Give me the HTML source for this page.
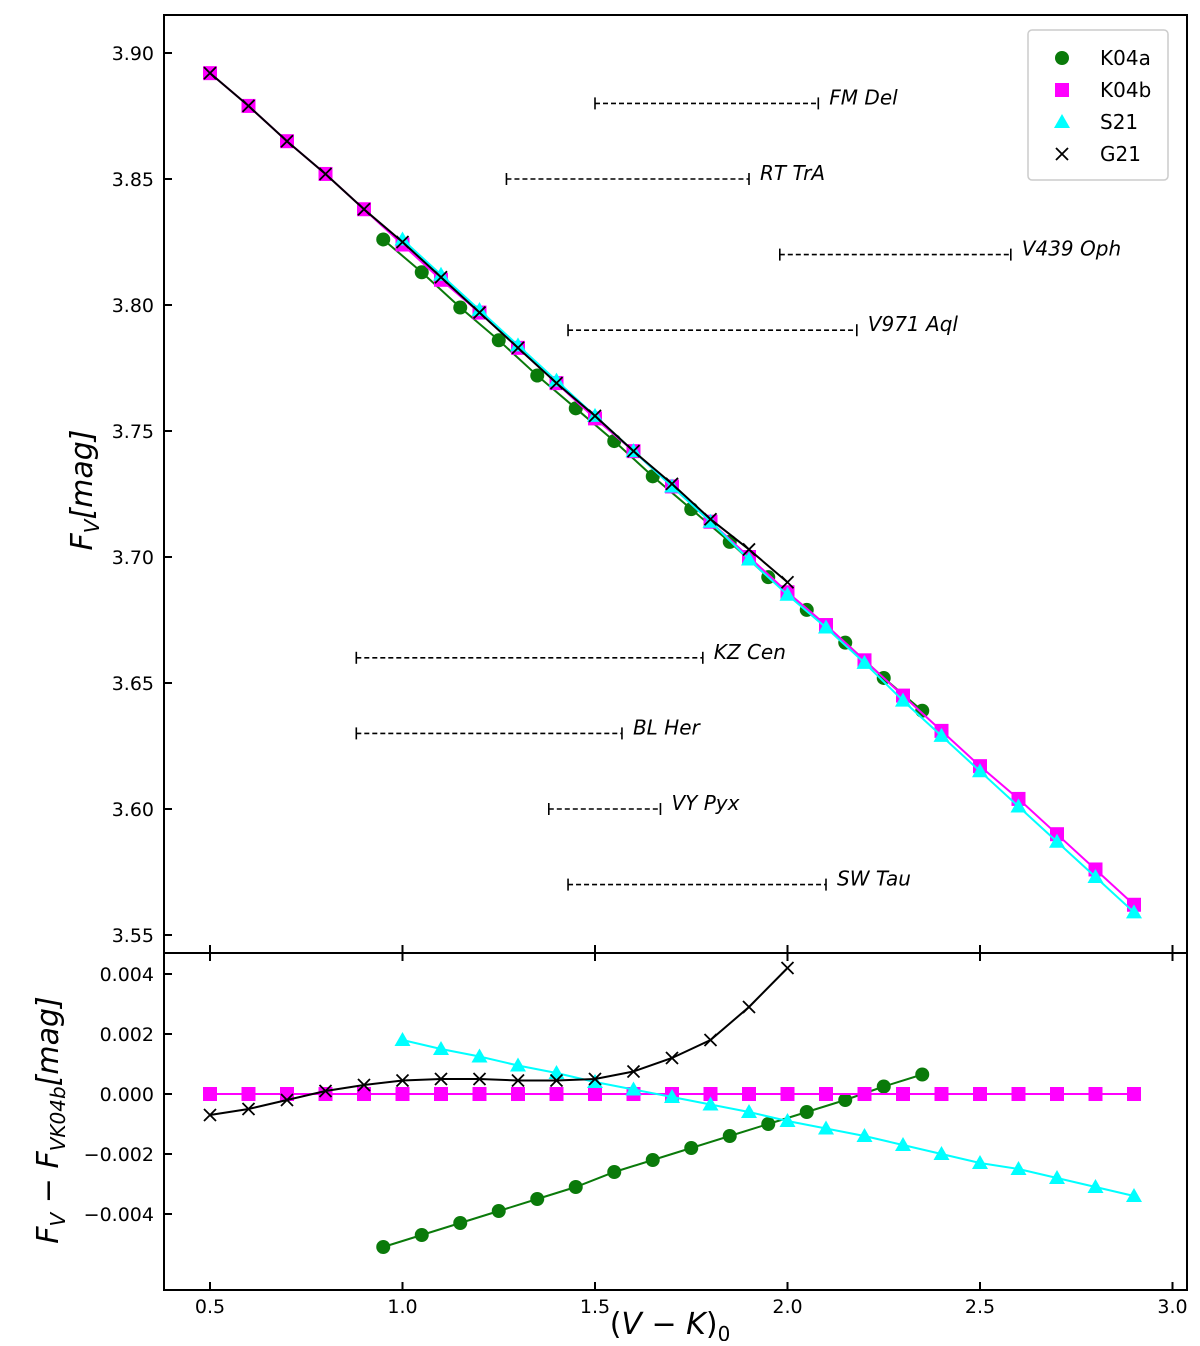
<!DOCTYPE html>
<html><head><meta charset="utf-8"><style>
body{margin:0;background:#fff;}
svg text{font-family:"DejaVu Sans","Liberation Sans",sans-serif;}
</style></head><body>
<svg id="c" width="1200" height="1341" xmlns="http://www.w3.org/2000/svg"></svg>
<script>
const k04bX=[0.5,0.6,0.7,0.8,0.9,1.0,1.1,1.2,1.3,1.4,1.5,1.6,1.7,1.8,1.9,2.0,2.1,2.2,2.3,2.4,2.5,2.6,2.7,2.8,2.9];
const k04bY=[3.892,3.879,3.865,3.852,3.838,3.824,3.810,3.797,3.783,3.769,3.755,3.742,3.728,3.714,3.700,3.686,3.673,3.659,3.645,3.631,3.617,3.604,3.590,3.576,3.562];
const k04bD=[0,0,0,0,0,0,0,0,0,0,0,0,0,0,0,0,0,0,0,0,0,0,0,0,0];
const k04aX=[0.95,1.05,1.15,1.25,1.35,1.45,1.55,1.65,1.75,1.85,1.95,2.05,2.15,2.25,2.35];
const k04aY=[3.826,3.813,3.799,3.786,3.772,3.759,3.746,3.732,3.719,3.706,3.692,3.679,3.666,3.652,3.639];
const k04aD=[-0.0051,-0.0047,-0.0043,-0.0039,-0.0035,-0.0031,-0.0026,-0.0022,-0.0018,-0.0014,-0.0010,-0.0006,-0.0002,0.00025,0.00065];
const s21X=[1.0,1.1,1.2,1.3,1.4,1.5,1.6,1.7,1.8,1.9,2.0,2.1,2.2,2.3,2.4,2.5,2.6,2.7,2.8,2.9];
const s21Y=[3.826,3.812,3.798,3.784,3.770,3.756,3.742,3.728,3.714,3.699,3.685,3.672,3.658,3.643,3.629,3.615,3.601,3.587,3.573,3.559];
const s21D=[0.0018,0.0015,0.00125,0.00095,0.0007,0.0004,0.00015,-0.0001,-0.00035,-0.0006,-0.0009,-0.00115,-0.0014,-0.0017,-0.002,-0.0023,-0.0025,-0.0028,-0.0031,-0.0034];
const g21X=[0.5,0.6,0.7,0.8,0.9,1.0,1.1,1.2,1.3,1.4,1.5,1.6,1.7,1.8,1.9,2.0];
const g21Y=[3.892,3.879,3.865,3.852,3.838,3.825,3.811,3.797,3.783,3.769,3.756,3.742,3.729,3.715,3.703,3.690];
const g21D=[-0.0007,-0.0005,-0.0002,0.0001,0.0003,0.00045,0.0005,0.0005,0.00045,0.00045,0.0005,0.00075,0.0012,0.0018,0.0029,0.0042];
const starNames=["FM Del","RT TrA","V439 Oph","V971 Aql","KZ Cen","BL Her","VY Pyx","SW Tau"];
const starY=[3.88,3.85,3.82,3.79,3.66,3.63,3.60,3.57];
const starX0=[1.50,1.27,1.98,1.43,0.88,0.88,1.38,1.43];
const starX1=[2.08,1.90,2.58,2.18,1.78,1.57,1.67,2.10];
const xTicks=[0.5,1.0,1.5,2.0,2.5,3.0];
const yTopTicks=[3.55,3.60,3.65,3.70,3.75,3.80,3.85,3.90];
const yBotTicks=[-0.004,-0.002,0.000,0.002,0.004];

const L=164,R=1187,T=15,M=953,B=1290;
const X=v=>210+(v-0.5)*385;
const YT=v=>53+(3.90-v)*2520;
const YB=v=>1094-v*30000;
const svg=document.getElementById('c');
const NS='http://www.w3.org/2000/svg';
function mk(tag,a,parent){const e=document.createElementNS(NS,tag);for(const k in a)e.setAttribute(k,a[k]);(parent||svg).appendChild(e);return e;}

let f=mk('rect',{x:L,y:T,width:R-L,height:M-T,fill:'none',stroke:'#000','stroke-width':2});


f=mk('rect',{x:L,y:M,width:R-L,height:B-M,fill:'none',stroke:'#000','stroke-width':2});



xTicks.forEach(v=>{
  const x=X(v);
  mk('line',{x1:x,x2:x,y1:M-8,y2:M+8,stroke:'#000','stroke-width':2});
  mk('line',{x1:x,x2:x,y1:B-8,y2:B,stroke:'#000','stroke-width':2});
  const t=mk('text',{x:x,y:B+23,'font-size':19,'text-anchor':'middle'});t.textContent=v.toFixed(1);
  
  
});
yTopTicks.forEach(v=>{
  const y=YT(v);
  mk('line',{x1:L,x2:L+8,y1:y,y2:y,stroke:'#000','stroke-width':2});
  const t=mk('text',{x:L-10,y:y+7,'font-size':19,'text-anchor':'end'});t.textContent=v.toFixed(2);
  
  
});
yBotTicks.forEach(v=>{
  const y=YB(v);
  mk('line',{x1:L,x2:L+8,y1:y,y2:y,stroke:'#000','stroke-width':2});
  const t=mk('text',{x:L-10,y:y+7,'font-size':19,'text-anchor':'end'});t.textContent=(v<0?'\u2212':'')+Math.abs(v).toFixed(3);
  
  
});

let t=mk('text',{x:670,y:1334,'font-size':30,'text-anchor':'middle'});
t.innerHTML='(<tspan font-style="italic">V</tspan> \u2212 <tspan font-style="italic">K</tspan>)<tspan font-size="20" dy="7">0</tspan>';


t=mk('text',{x:0,y:0,'font-size':30,'text-anchor':'middle',transform:'translate(92,490) rotate(-90)'});
t.innerHTML='<tspan font-style="italic">F</tspan><tspan font-size="20" dy="7" font-style="italic">V</tspan><tspan dy="-7" font-style="italic">[mag]</tspan>';


t=mk('text',{x:0,y:0,'font-size':30,'text-anchor':'middle',transform:'translate(58,1120) rotate(-90)'});
t.innerHTML='<tspan font-style="italic">F</tspan><tspan font-size="20" dy="7" font-style="italic">V</tspan><tspan dy="-7"> \u2212 </tspan><tspan font-style="italic">F</tspan><tspan font-size="20" dy="7" font-style="italic">VK04b</tspan><tspan dy="-7" font-style="italic">[mag]</tspan>';



starNames.forEach((n,i)=>{
  const y=YT(starY[i]),x0=X(starX0[i]),x1=X(starX1[i]);
  const g=mk('g',{});
  
  
  mk('line',{x1:x0,x2:x1,y1:y,y2:y,stroke:'#000','stroke-width':1.6,'stroke-dasharray':'5,3'},g);
  mk('line',{x1:x0,x2:x0,y1:y-6,y2:y+6,stroke:'#000','stroke-width':1.6},g);
  mk('line',{x1:x1,x2:x1,y1:y-6,y2:y+6,stroke:'#000','stroke-width':1.6},g);
  const tt=mk('text',{x:x1+11,y:y+1,'font-size':20,'font-style':'italic'},g);tt.textContent=n;
});

function marker(type,x,y,g,color){
  if(type==='circle')mk('circle',{cx:x,cy:y,r:7,fill:color},g);
  else if(type==='square')mk('rect',{x:x-7,y:y-7,width:14,height:14,fill:color},g);
  else if(type==='tri')mk('polygon',{points:`${x},${y-8} ${x-8},${y+6} ${x+8},${y+6}`,fill:color},g);
  else{mk('path',{d:`M${x-6},${y-6}L${x+6},${y+6}M${x-6},${y+6}L${x+6},${y-6}`,stroke:color,'stroke-width':1.8},g);}
}
function series(name,xs,ys,ds,type,color){
  [[ys,YT,'top'],[ds,YB,'bottom']].forEach(([vals,Y,p])=>{
    const g=mk('g',{});
    
    
    mk('polyline',{points:xs.map((x,i)=>X(x)+','+Y(vals[i])).join(' '),fill:'none',stroke:color,'stroke-width':2},g);
    xs.forEach((x,i)=>marker(type,X(x),Y(vals[i]),g,color));
  });
}
series('k04a',k04aX,k04aY,k04aD,'circle','#0a7a0a');
series('k04b',k04bX,k04bY,k04bD,'square','#ff00ff');
series('s21',s21X,s21Y,s21D,'tri','#00ffff');
series('g21',g21X,g21Y,g21D,'x','#000');

const lg=mk('g',{});


mk('rect',{x:1028,y:30,width:140,height:150,rx:4,fill:'#fff',stroke:'#ccc','stroke-width':1.5},lg);
[['K04a','circle','#0a7a0a'],['K04b','square','#ff00ff'],['S21','tri','#00ffff'],['G21','x','#000']].forEach((e,i)=>{
  const y=58+i*32;
  const g=mk('g',{},lg);
  
  
  marker(e[1],1062,y,g,e[2]);
  const tt=mk('text',{x:1100,y:y+7,'font-size':20},g);tt.textContent=e[0];
});
</script>
</body></html>
